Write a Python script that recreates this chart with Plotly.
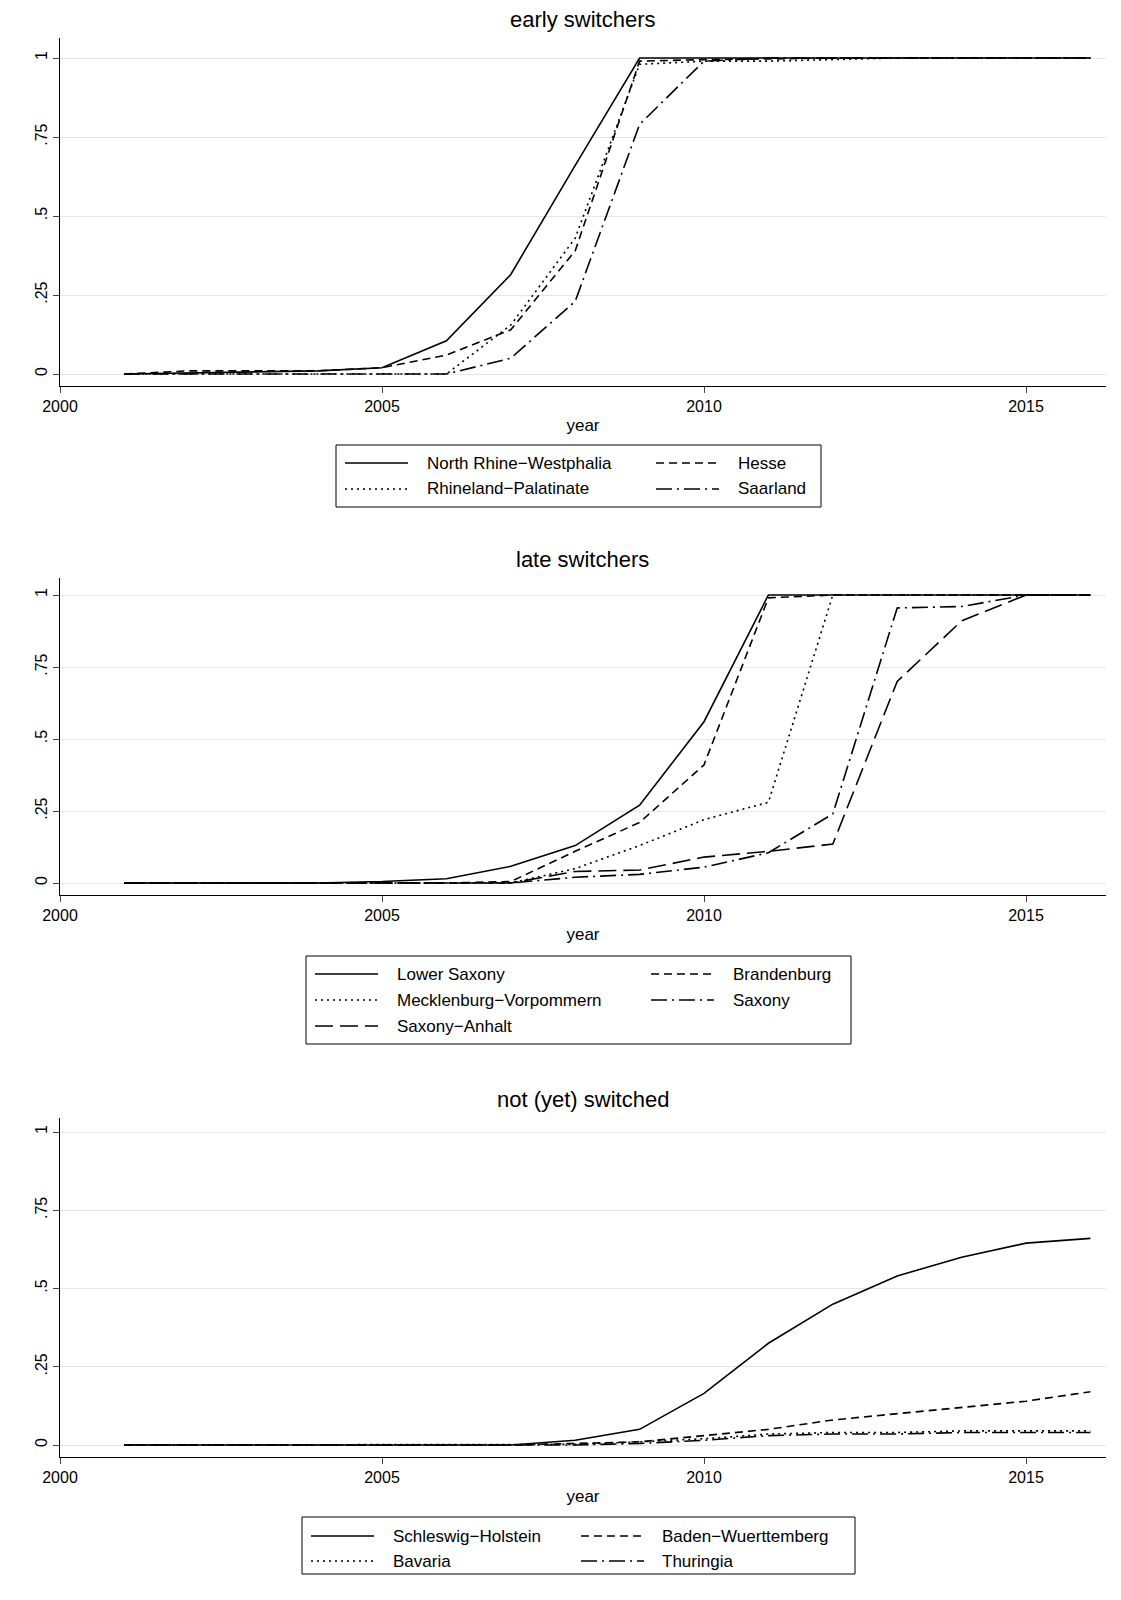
import plotly.graph_objects as go

years = list(range(2001, 2017))

# early switchers
nrw = [0, .003, .005, .01, .02, .105, .315, .66, 1, 1, 1, 1, 1, 1, 1, 1]
hesse = [0, .01, .01, .01, .02, .06, .14, .39, .99, .995, .997, 1, 1, 1, 1, 1]
rhineland = [0, 0, 0, 0, 0, 0, .155, .43, .98, .99, .99, .995, 1, 1, 1, 1]
saarland = [0, 0, 0, 0, 0, 0, .05, .23, .79, .99, 1, 1, 1, 1, 1, 1]

# late switchers
lower_saxony = [0, 0, 0, 0, .005, .015, .058, .13, .27, .56, 1, 1, 1, 1, 1, 1]
brandenburg = [0, 0, 0, 0, 0, 0, .005, .11, .21, .41, .99, 1, 1, 1, 1, 1]
mecklenburg = [0, 0, 0, 0, 0, 0, 0, .05, .13, .22, .28, 1, 1, 1, 1, 1]
saxony = [0, 0, 0, 0, 0, 0, 0, .02, .03, .055, .105, .24, .955, .96, 1, 1]
saxony_anhalt = [0, 0, 0, 0, 0, 0, 0, .04, .045, .09, .11, .135, .70, .91, 1, 1]

# not (yet) switched
schleswig = [0, 0, 0, 0, 0, 0, 0, .015, .05, .165, .325, .45, .54, .60, .645, .66]
baden = [0, 0, 0, 0, 0, 0, 0, .005, .01, .03, .05, .08, .10, .12, .14, .17]
bavaria = [0, 0, 0, 0, 0, 0, 0, .002, .01, .02, .035, .04, .04, .045, .045, .045]
thuringia = [0, 0, 0, 0, 0, 0, 0, 0, .005, .015, .03, .035, .035, .04, .04, .04]

SOLID = "solid"
DASH = "8px,5px"
DOT = "2px,4px"
DASHDOT = "16px,5px,2px,5px"
LONGDASH = "18px,7px"

W, H = 1121, 1600
FONT = "Liberation Sans, Arial"

panels = [
    dict(title="early switchers", top=30, bottom=378, zero=366, one=50,
         series=[("North Rhine\u2212Westphalia", nrw, SOLID), ("Hesse", hesse, DASH),
                 ("Rhineland\u2212Palatinate", rhineland, DOT), ("Saarland", saarland, DASHDOT)],
         box=(328, 437, 813, 499), rows=[455, 481], cols=[(337, 417), (648, 728)]),
    dict(title="late switchers", top=570, bottom=887, zero=875, one=587,
         series=[("Lower Saxony", lower_saxony, SOLID), ("Brandenburg", brandenburg, DASH),
                 ("Mecklenburg\u2212Vorpommern", mecklenburg, DOT), ("Saxony", saxony, DASHDOT),
                 ("Saxony\u2212Anhalt", saxony_anhalt, LONGDASH)],
         box=(298, 948, 843, 1036), rows=[966, 992, 1018], cols=[(307, 387), (643, 723)]),
    dict(title="not (yet) switched", top=1110, bottom=1449, zero=1437, one=1124,
         series=[("Schleswig\u2212Holstein", schleswig, SOLID), ("Baden\u2212Wuerttemberg", baden, DASH),
                 ("Bavaria", bavaria, DOT), ("Thuringia", thuringia, DASHDOT)],
         box=(294, 1509, 847, 1566), rows=[1528, 1553], cols=[(303, 383), (573, 652)]),
]

px = lambda x: x / W
py = lambda y: 1 - y / H

fig = go.Figure()
shapes, annotations = [], []
xleft, xright = 52, 1098
x_range = [2000, 2000 + (xright - xleft) / 64.4]

for i, p in enumerate(panels, start=1):
    sfx = "" if i == 1 else str(i)
    unit = p["zero"] - p["one"]
    y_range = [-(p["bottom"] - p["zero"]) / unit, 1 + (p["one"] - p["top"]) / unit]
    for name, vals, dash in p["series"]:
        fig.add_trace(go.Scatter(x=years, y=vals, mode="lines", name=name, showlegend=False,
                                 line=dict(color="black", width=1.6, dash=dash),
                                 xaxis="x" + sfx, yaxis="y" + sfx))
    fig.layout["xaxis" + sfx] = dict(
        domain=[px(xleft), px(xright)], anchor="y" + sfx, range=x_range, automargin=False,
        tickvals=[2000, 2005, 2010, 2015], ticks="outside", ticklen=6, showgrid=False,
        showline=True, linecolor="black", linewidth=1, zeroline=False,
        title=dict(text="year", font=dict(size=17), standoff=4), tickfont=dict(size=16))
    fig.layout["yaxis" + sfx] = dict(
        domain=[py(p["bottom"]), py(p["top"])], anchor="x" + sfx, range=y_range, automargin=False,
        tickvals=[0, .25, .5, .75, 1], ticktext=["0", ".25", ".5", ".75", "1"],
        tickangle=-90, ticks="outside", ticklen=6, showgrid=True, gridcolor="#e6e6e6",
        showline=True, linecolor="black", linewidth=1, zeroline=False, tickfont=dict(size=16))
    annotations.append(dict(text=p["title"], x=px((xleft + xright) / 2), y=py(p["top"] - 4),
                            xref="paper", yref="paper", showarrow=False, yanchor="bottom",
                            font=dict(size=22)))
    x0, y0, x1, y1 = p["box"]
    shapes.append(dict(type="rect", xref="paper", yref="paper", x0=px(x0), x1=px(x1),
                       y0=py(y0), y1=py(y1), line=dict(color="black", width=1)))
    for k, (name, vals, dash) in enumerate(p["series"]):
        r, c = divmod(k, 2)
        lx, tx = p["cols"][c]
        yy = py(p["rows"][r])
        shapes.append(dict(type="line", xref="paper", yref="paper", x0=px(lx), x1=px(lx + 63),
                           y0=yy, y1=yy, line=dict(color="black", width=1.6, dash=dash)))
        annotations.append(dict(text=name, x=px(tx), y=yy, xref="paper", yref="paper",
                                showarrow=False, xanchor="left", yanchor="middle",
                                font=dict(size=17)))

fig.update_layout(width=W, height=H, margin=dict(l=0, r=0, t=0, b=0),
                  plot_bgcolor="white", paper_bgcolor="white",
                  font=dict(family=FONT, color="black"),
                  shapes=shapes, annotations=annotations)

fig.write_html("out.html")
